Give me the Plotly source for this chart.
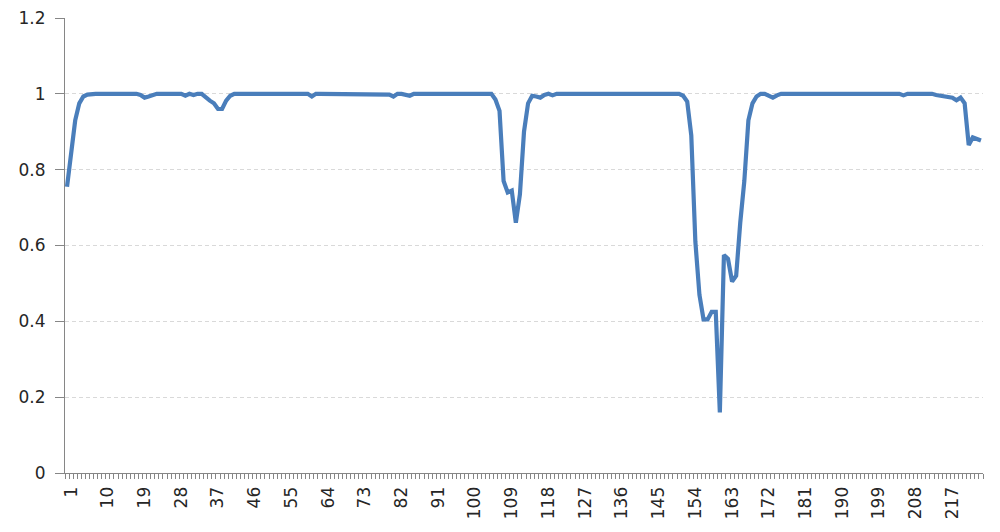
import plotly.graph_objects as go

categories = list(range(1, 226))

values = [
    0.755, 0.84, 0.93, 0.975, 0.993, 0.998, 1.0, 1.0, 1.0, 1.0, 1.0, 1.0, 1.0, 1.0, 1.0,
    1.0, 1.0, 1.0, 0.997, 0.99, 0.993, 0.997, 1.0, 1.0, 1.0, 1.0, 1.0, 1.0, 1.0, 0.995,
    1.0, 0.997, 1.0, 1.0, 0.99, 0.982, 0.975, 0.96, 0.96, 0.982, 0.995, 1.0, 1.0, 1.0, 1.0,
    1.0, 1.0, 1.0, 1.0, 1.0, 1.0, 1.0, 1.0, 1.0, 1.0, 1.0, 1.0, 1.0, 1.0, 1.0,
    0.993, 1.0, 1.0, 1.0, 1.0, 1.0, 1.0, 1.0, 1.0, 1.0, 1.0, 1.0, 1.0, 1.0, 1.0,
    1.0, 1.0, 1.0, 1.0, 0.998, 0.993, 1.0, 1.0, 0.998, 0.995, 1.0, 1.0, 1.0, 1.0, 1.0,
    1.0, 1.0, 1.0, 1.0, 1.0, 1.0, 1.0, 1.0, 1.0, 1.0, 1.0, 1.0, 1.0, 1.0, 1.0,
    0.985, 0.955, 0.77, 0.74, 0.745, 0.66, 0.735, 0.90, 0.975, 0.995, 0.993, 0.99, 0.997, 1.0, 0.996,
    1.0, 1.0, 1.0, 1.0, 1.0, 1.0, 1.0, 1.0, 1.0, 1.0, 1.0, 1.0, 1.0, 1.0, 1.0,
    1.0, 1.0, 1.0, 1.0, 1.0, 1.0, 1.0, 1.0, 1.0, 1.0, 1.0, 1.0, 1.0, 1.0, 1.0,
    1.0, 0.995, 0.98, 0.89, 0.61, 0.47, 0.405, 0.405, 0.425, 0.425, 0.16, 0.575, 0.565, 0.505, 0.52,
    0.66, 0.77, 0.93, 0.975, 0.993, 1.0, 1.0, 0.996, 0.99, 0.996, 1.0, 1.0, 1.0, 1.0, 1.0,
    1.0, 1.0, 1.0, 1.0, 1.0, 1.0, 1.0, 1.0, 1.0, 1.0, 1.0, 1.0, 1.0, 1.0, 1.0,
    1.0, 1.0, 1.0, 1.0, 1.0, 1.0, 1.0, 1.0, 1.0, 1.0, 0.996, 1.0, 1.0, 1.0, 1.0,
    1.0, 1.0, 1.0, 0.997, 0.995, 0.993, 0.99, 0.99, 0.983, 0.99, 0.975, 0.865, 0.885, 0.882, 0.877,
]

x_tick_vals = [1, 10, 19, 28, 37, 46, 55, 64, 73, 82, 91, 100, 109, 118, 127,
               136, 145, 154, 163, 172, 181, 190, 199, 208, 217]
x_tick_text = [str(v) for v in x_tick_vals]
y_tick_vals = [0, 0.2, 0.4, 0.6, 0.8, 1.0, 1.2]
y_tick_text = ["0", "0.2", "0.4", "0.6", "0.8", "1", "1.2"]

fig = go.Figure()
fig.add_trace(go.Scatter(
    x=categories, y=values, mode="lines",
    line=dict(color="#4a7ebb", width=4.2),
    hoverinfo="x+y", showlegend=False,
))

font_family = "DejaVu Sans"
fig.update_layout(
    width=984, height=516,
    margin=dict(l=57, r=9, t=10, b=51),
    paper_bgcolor="white", plot_bgcolor="white",
    font=dict(family=font_family, size=17, color="#262626"),
    xaxis=dict(
        range=[0.5, 225.5],
        tickmode="array", tickvals=x_tick_vals, ticktext=x_tick_text,
        tickangle=-90, ticks="", showgrid=False, zeroline=False,
        showline=True, linecolor="#868686", linewidth=1,
        ticklabelstandoff=6, ticklabelshift=4, automargin=False,
        ticklabeloverflow="allow",
        minor=dict(ticks="outside", tick0=0.5, dtick=1, ticklen=5,
                   tickcolor="#868686", tickwidth=1, showgrid=False),
        tickfont=dict(family=font_family, size=17, color="#262626"),
    ),
    yaxis=dict(
        range=[0, 1.2],
        tickmode="array", tickvals=y_tick_vals, ticktext=y_tick_text,
        ticks="outside", ticklen=9, tickcolor="#868686", tickwidth=1,
        ticklabelstandoff=6, automargin=False, ticklabeloverflow="allow",
        showgrid=True, gridcolor="#d9d9d9", gridwidth=1, griddash="4px,3px",
        zeroline=False, showline=True, linecolor="#868686", linewidth=1,
        tickfont=dict(family=font_family, size=17, color="#262626"),
    ),
)

fig.write_html("out.html")
